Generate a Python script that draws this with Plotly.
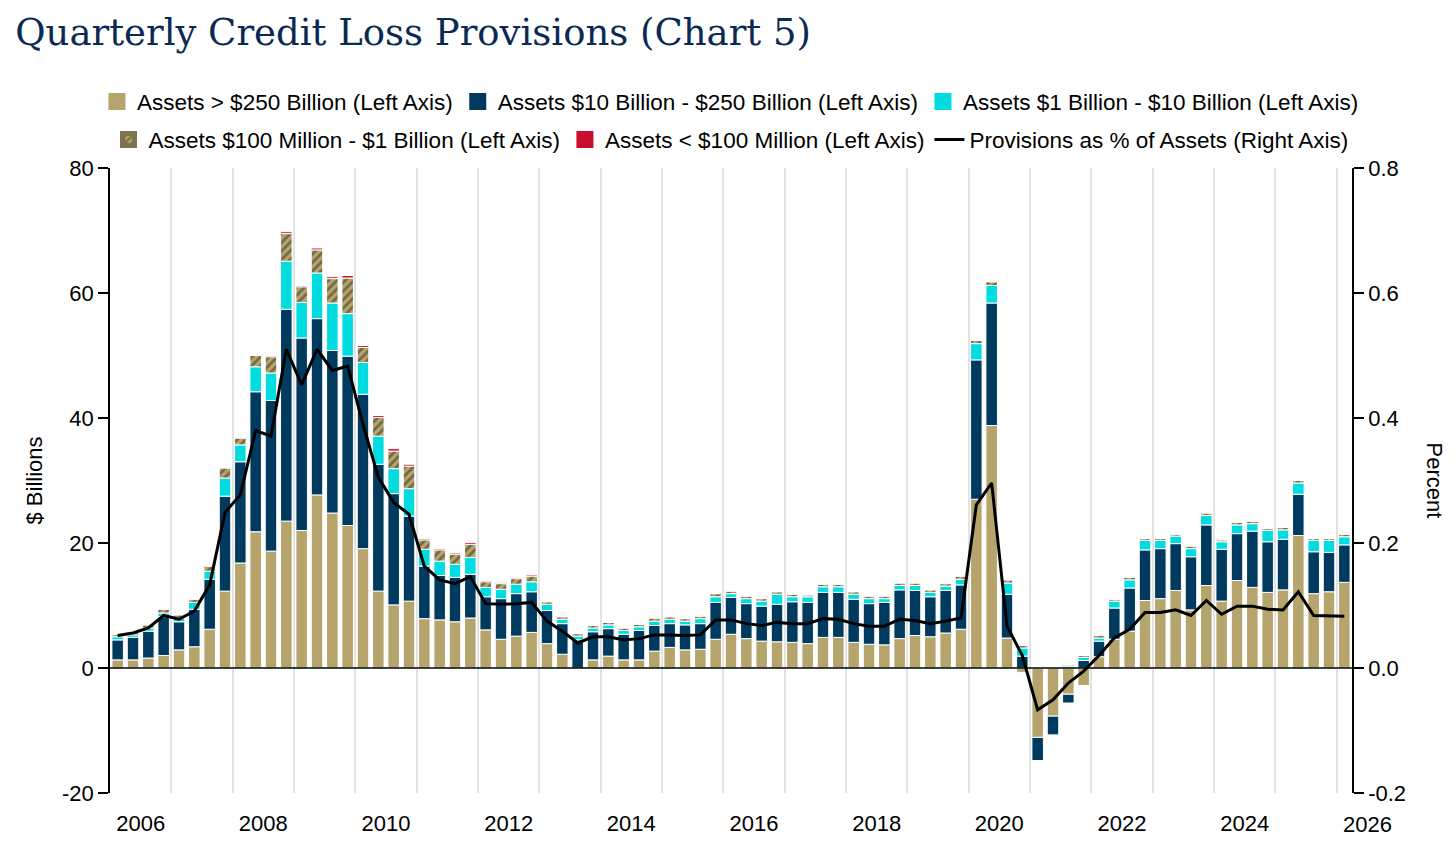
import plotly.graph_objects as go

# Quarters shown (2005Q3 .. 2025Q3), one bar each
quarters = [f"{y}Q{q}" for y in range(2005, 2026) for q in range(1, 5)][2:83]

# $ billions by asset-size group
assets_gt_250b = [
    1.3, 1.3, 1.6, 2.0, 2.9, 3.4, 6.2, 12.3, 16.8, 21.8, 18.7, 23.5, 22.0, 27.7, 24.8, 22.8,
    19.1, 12.3, 10.1, 10.7, 7.9, 7.7, 7.4, 8.0, 6.1, 4.6, 5.1, 5.7, 3.9, 2.2, 0.0, 1.3,
    1.9, 1.3, 1.3, 2.7, 3.3, 2.9, 3.0, 4.6, 5.4, 4.7, 4.3, 4.2, 4.1, 3.9, 4.9, 4.9,
    4.1, 3.8, 3.7, 4.7, 5.2, 5.0, 5.6, 6.2, 27.0, 38.8, 4.8, -0.7, -11.1, -7.7, -4.2, -2.8,
    1.8, 4.6, 5.9, 10.8, 11.1, 12.4, 9.3, 13.2, 10.7, 14.0, 12.9, 12.1, 12.5, 21.2, 11.9, 12.2,
    13.7,
]
assets_10b_250b = [
    3.2, 3.6, 4.3, 6.2, 4.5, 6.0, 8.0, 15.2, 16.2, 22.4, 24.1, 33.9, 30.8, 28.2, 26.0, 27.1,
    24.7, 20.3, 17.8, 13.6, 8.4, 7.1, 7.1, 7.0, 5.3, 6.5, 6.8, 6.5, 5.3, 4.9, 4.5, 4.5,
    4.4, 4.1, 4.7, 4.1, 3.8, 4.0, 4.1, 5.9, 5.9, 5.6, 5.6, 6.0, 6.5, 6.6, 7.2, 7.2,
    6.9, 6.5, 6.8, 7.8, 7.2, 6.4, 6.8, 7.1, 22.3, 19.6, 7.0, 1.9, -3.7, -3.0, -1.4, 1.2,
    2.5, 5.0, 6.9, 8.1, 8.0, 7.5, 8.5, 9.7, 8.3, 7.5, 9.0, 8.1, 8.1, 6.6, 6.7, 6.3,
    6.0,
]
assets_1b_10b = [
    0.5, 0.4, 0.5, 0.6, 0.6, 1.1, 1.3, 2.9, 2.7, 4.0, 4.4, 7.7, 5.7, 7.3, 7.6, 6.8,
    5.1, 4.5, 4.0, 4.4, 2.7, 2.3, 2.1, 2.7, 1.5, 1.5, 1.5, 1.6, 1.0, 0.7, 0.6, 0.6,
    0.6, 0.6, 0.6, 0.7, 0.7, 0.6, 0.8, 0.9, 0.6, 0.8, 0.8, 1.6, 0.8, 0.9, 0.9, 0.9,
    0.8, 0.8, 0.6, 0.7, 0.8, 0.7, 0.7, 0.9, 2.6, 2.8, 1.8, 1.3, 0.1, 0.1, 0.3, 0.5,
    0.5, 1.1, 1.3, 1.5, 1.3, 1.2, 1.3, 1.5, 1.2, 1.4, 1.2, 1.8, 1.5, 1.8, 1.8, 1.9,
    1.3,
]
assets_100m_1b = [
    0.35, 0.4, 0.5, 0.6, 0.5, 0.5, 0.8, 1.6, 1.1, 1.8, 2.6, 4.4, 2.5, 3.7, 3.9, 5.7,
    2.4, 3.0, 2.8, 3.6, 1.5, 1.8, 1.6, 2.1, 0.9, 0.9, 0.9, 0.9, 0.4, 0.4, 0.4, 0.4,
    0.4, 0.4, 0.4, 0.5, 0.4, 0.4, 0.4, 0.5, 0.4, 0.4, 0.4, 0.4, 0.4, 0.3, 0.4, 0.4,
    0.4, 0.4, 0.4, 0.4, 0.4, 0.4, 0.4, 0.5, 0.5, 0.6, 0.5, 0.4, 0.1, 0.1, 0.2, 0.3,
    0.4, 0.3, 0.4, 0.3, 0.3, 0.3, 0.4, 0.4, 0.3, 0.4, 0.4, 0.3, 0.4, 0.4, 0.3, 0.3,
    0.4,
]
assets_lt_100m = [
    0.05, 0.05, 0.05, 0.05, 0.05, 0.05, 0.05, 0.1, 0.1, 0.15, 0.2, 0.3, 0.2, 0.3, 0.3, 0.4,
    0.3, 0.3, 0.4, 0.3, 0.2, 0.2, 0.2, 0.3, 0.2, 0.2, 0.2, 0.2, 0.1, 0.05, 0.05, 0.05,
    0.05, 0.05, 0.05, 0.05, 0.05, 0.05, 0.05, 0.05, 0.05, 0.05, 0.05, 0.05, 0.05, 0.05, 0.05, 0.05,
    0.05, 0.05, 0.05, 0.05, 0.05, 0.05, 0.05, 0.05, 0.05, 0.05, 0.05, 0.05, 0.03, 0.03, 0.03, 0.03,
    0.05, 0.05, 0.05, 0.05, 0.05, 0.05, 0.05, 0.05, 0.05, 0.05, 0.05, 0.05, 0.05, 0.05, 0.05, 0.05,
    0.05,
]
# Provisions as % of assets (right axis)
provisions_pct = [
    0.052, 0.056, 0.064, 0.084, 0.078, 0.091, 0.133, 0.249, 0.277, 0.380, 0.371, 0.510, 0.453, 0.510, 0.476, 0.483,
    0.390, 0.305, 0.265, 0.246, 0.163, 0.141, 0.135, 0.146, 0.103, 0.102, 0.103, 0.105, 0.075, 0.059, 0.040, 0.050,
    0.050, 0.045, 0.047, 0.053, 0.053, 0.052, 0.053, 0.077, 0.077, 0.071, 0.068, 0.073, 0.071, 0.071, 0.079, 0.078,
    0.071, 0.067, 0.067, 0.078, 0.076, 0.071, 0.075, 0.080, 0.261, 0.296, 0.067, 0.020, -0.067, -0.051, -0.024, -0.005,
    0.020, 0.048, 0.062, 0.089, 0.089, 0.093, 0.084, 0.108, 0.086, 0.099, 0.099, 0.094, 0.093, 0.122, 0.084, 0.084,
    0.083,
]

year_labels = ["2006", "2008", "2010", "2012", "2014", "2016", "2018", "2020", "2022", "2024", "2026"]
left_ticks = [-20, 0, 20, 40, 60, 80]
left_tick_text = ["-20", "0", "20", "40", "60", "80"]
right_ticks = [-0.2, 0.0, 0.2, 0.4, 0.6, 0.8]
right_tick_text = ["-0.2", "0.0", "0.2", "0.4", "0.6", "0.8"]

TAN = "#B5A46C"
NAVY = "#003A5E"
CYAN = "#00DCE0"
RED = "#C8102E"
FONT = "Liberation Sans, Arial, sans-serif"
FS = 22
LEG_FS = 22.5

x = list(range(len(quarters)))
# Jan 1 of each labelled year sits between Q4 and Q1 bars
first_q1 = quarters.index("2006Q1")
label_pos = [first_q1 - 0.5 + 8 * k for k in range(len(year_labels))]
x_range = [-0.5, len(quarters) - 0.5]

fig = go.Figure()

hatch = dict(shape="/", fgcolor="#2b2b22", size=6, solidity=0.45)
series = [
    ("Assets > $250 Billion (Left Axis)", assets_gt_250b, TAN, None, "legend"),
    ("Assets $10 Billion - $250 Billion (Left Axis)", assets_10b_250b, NAVY, None, "legend"),
    ("Assets $1 Billion - $10 Billion (Left Axis)", assets_1b_10b, CYAN, None, "legend"),
    ("Assets $100 Million - $1 Billion (Left Axis)", assets_100m_1b, TAN, hatch, "legend2"),
    ("Assets < $100 Million (Left Axis)", assets_lt_100m, RED, None, "legend2"),
]
for name, vals, color, pattern, leg in series:
    marker = dict(color=color, line=dict(color="white", width=1))
    if pattern:
        marker["pattern"] = pattern
    fig.add_trace(go.Bar(
        x=x, y=vals, name=name, marker=marker, showlegend=False,
        customdata=quarters,
        hovertemplate="%{customdata}: %{y:.1f}<extra>" + name + "</extra>",
    ))
    # empty legend-only twin with a thick same-colour edge so the swatch is larger
    lmarker = dict(color=color, line=dict(color=color, width=5))
    if pattern:
        lmarker["pattern"] = pattern
        lmarker["line"] = dict(color="#7d734f", width=5)
    fig.add_trace(go.Bar(
        x=[x[0]], y=[None], name=name, marker=lmarker, legend=leg, hoverinfo="skip",
    ))

fig.add_trace(go.Scatter(
    x=x, y=provisions_pct, name="Provisions as % of Assets (Right Axis)",
    mode="lines", line=dict(color="black", width=3), yaxis="y2", legend="legend2",
    customdata=quarters, hovertemplate="%{customdata}: %{y:.3f}%<extra></extra>",
))

fig.add_hline(y=0, line_color="black", line_width=1.5)

legend_style = dict(
    orientation="h", yanchor="middle",
    font=dict(family=FONT, size=LEG_FS, color="black"), traceorder="normal",
    bgcolor="rgba(0,0,0,0)", itemwidth=30,
)

# the page body adds an 8px offset, so margins are trimmed by 8 on top/left
fig.update_layout(
    width=1456, height=845,
    barmode="relative", bargap=0.25,
    plot_bgcolor="white", paper_bgcolor="white",
    margin=dict(l=102, r=112, t=160, b=60),
    title=dict(
        text="Quarterly Credit Loss Provisions (Chart 5)",
        font=dict(family="DejaVu Serif, serif", size=37, color="#0A2A54"),
        xref="container", x=0.005, xanchor="left",
        yref="container", y=0.972, yanchor="middle",
    ),
    # first row is anchored just left of the plot so it may run wider than it
    legend=dict(x=-0.0105, xanchor="left", y=1.106, **legend_style),
    legend2=dict(x=0.5, xanchor="center", y=1.045, **legend_style),
    showlegend=True,
    font=dict(family=FONT, size=FS, color="black"),
    xaxis=dict(
        range=x_range, tickmode="array", tickvals=label_pos[:-1], ticktext=year_labels[:-1],
        showgrid=False, zeroline=False, showline=False, ticks="",
        ticklabelstandoff=15, tickfont=dict(family=FONT, size=FS, color="black"),
        minor=dict(tick0=first_q1 + 1.5, dtick=4, showgrid=True, gridcolor="#E3E3E3", gridwidth=2),
    ),
    yaxis=dict(
        range=[-20, 80], tickmode="array", tickvals=left_ticks, ticktext=left_tick_text,
        showgrid=False, zeroline=False,
        showline=True, linecolor="black", linewidth=1.5,
        ticks="outside", ticklen=10, tickwidth=1.5, tickcolor="black",
        tickfont=dict(family=FONT, size=FS, color="black"),
    ),
    yaxis2=dict(
        range=[-0.2, 0.8], tickmode="array", tickvals=right_ticks, ticktext=right_tick_text,
        overlaying="y", side="right", showgrid=False, zeroline=False,
        showline=True, linecolor="black", linewidth=1.5,
        ticks="outside", ticklen=10, tickwidth=1.5, tickcolor="black",
        tickfont=dict(family=FONT, size=FS, color="black"),
    ),
)

span = x_range[1] - x_range[0]
fig.add_annotation(  # last year label sits just past the plot edge
    text=year_labels[-1], xref="paper", yref="paper",
    x=(label_pos[-1] - x_range[0]) / span, y=0, yshift=-31,
    showarrow=False, xanchor="center", yanchor="middle",
    font=dict(family=FONT, size=FS, color="black"),
)
fig.add_annotation(
    text="$ Billions", xref="paper", yref="paper", x=-0.0604, y=0.5,
    xanchor="center", yanchor="middle",
    textangle=-90, showarrow=False, font=dict(family=FONT, size=FS, color="black"),
)
fig.add_annotation(
    text="Percent", xref="paper", yref="paper", x=1.0668, y=0.5,
    xanchor="center", yanchor="middle",
    textangle=90, showarrow=False, font=dict(family=FONT, size=FS, color="black"),
)

fig.write_html("out.html")
